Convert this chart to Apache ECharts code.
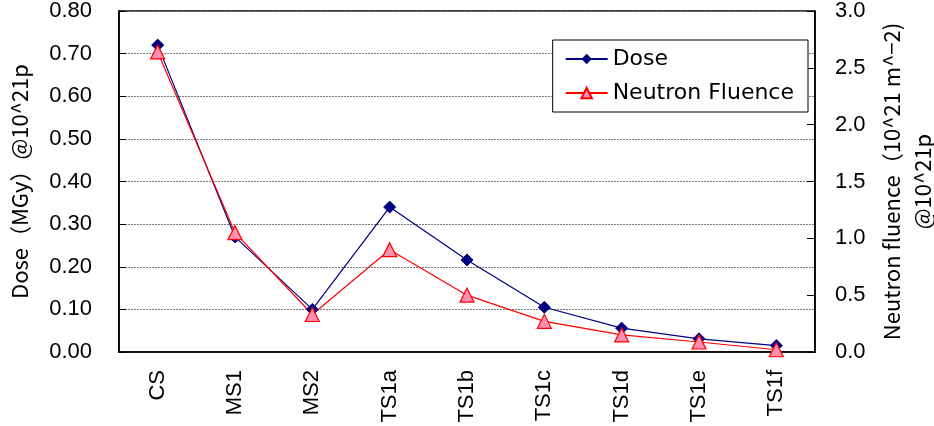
<!DOCTYPE html>
<html>
<head>
<meta charset="utf-8">
<script src="https://cdn.jsdelivr.net/npm/echarts@6/dist/echarts.min.js"></script>
<style>
  html, body { margin: 0; padding: 0; background: #fff; }
  #chart { width: 934px; height: 426px; }
</style>
</head>
<body>
<div id="chart"></div>
<script>
const categories = ['CS', 'MS1', 'MS2', 'TS1a', 'TS1b', 'TS1c', 'TS1d', 'TS1e', 'TS1f'];
const doseValues = [0.72, 0.27, 0.10, 0.34, 0.216, 0.105, 0.056, 0.031, 0.015];
const fluenceValues = [2.64, 1.05, 0.33, 0.90, 0.50, 0.27, 0.15, 0.088, 0.02];
const leftTicks = { min: 0, max: 0.8, interval: 0.1 };
const rightTicks = { min: 0, max: 3.0, interval: 0.5 };

const font = 'Liberation Sans, Arial, sans-serif';
const cjkFont = '"Noto Sans CJK JP", sans-serif';

const chart = echarts.init(document.getElementById('chart'));
const option = {
    backgroundColor: '#fff',
    animation: false,
    grid: {
        left: 119,
        right: 119,
        top: 11,
        bottom: 74,
        containLabel: false,
        outerBoundsMode: 'none',
        show: true,
        borderColor: '#000',
        borderWidth: 1.5,
    },
    legend: {
        right: 126,
        top: 40,
        orient: 'vertical',
        padding: [8, 14, 8, 12],
        itemGap: 12,
        itemWidth: 42,
        itemHeight: 13,
        borderColor: '#000',
        borderWidth: 1,
        backgroundColor: '#fff',
        textStyle: { fontFamily: 'DejaVu Sans', fontSize: 22, color: '#000' },
        data: ['Dose', 'Neutron Fluence'],
    },
    xAxis: {
        type: 'category',
        data: categories,
        boundaryGap: true,
        axisLine: { lineStyle: { color: '#000', width: 1.5 } },
        axisTick: { inside: true, length: 8, lineStyle: { color: '#000' } },
        axisLabel: {
            rotate: 90,
            margin: 18,
            fontFamily: font,
            fontSize: 22,
            color: '#000',
        },
    },
    yAxis: [
        {
            type: 'value',
            min: leftTicks.min,
            max: leftTicks.max,
            interval: leftTicks.interval,
            name: 'Dose（MGy）@10^21p',
            nameLocation: 'middle',
            nameGap: 88,
            nameTextStyle: { fontFamily: cjkFont, fontSize: 22, color: '#000' },
            axisLine: { show: true, lineStyle: { color: '#000', width: 1.5 } },
            axisTick: { show: true, inside: true, length: 7, lineStyle: { color: '#000' } },
            axisLabel: {
                fontFamily: font,
                fontSize: 22,
                color: '#000',
                margin: 27,
                formatter: v => v.toFixed(2),
            },
            splitLine: { show: true, lineStyle: { color: '#777', type: [2, 1], width: 1 } },
        },
        {
            type: 'value',
            min: rightTicks.min,
            max: rightTicks.max,
            interval: rightTicks.interval,
            name: 'Neutron fluence（10^21 m^−2)\n@10^21p',
            nameLocation: 'middle',
            nameGap: 61,
            nameRotate: 90,
            nameTextStyle: { fontFamily: cjkFont, fontSize: 22, color: '#000', lineHeight: 31 },
            axisLine: { show: true, lineStyle: { color: '#000', width: 1.5 } },
            axisTick: { show: true, inside: true, length: 8, lineStyle: { color: '#000' } },
            axisLabel: {
                fontFamily: font,
                fontSize: 22,
                color: '#000',
                margin: 20,
                formatter: v => v.toFixed(1),
            },
            splitLine: { show: false },
        },
    ],
    series: [
        {
            name: 'Dose',
            type: 'line',
            yAxisIndex: 0,
            data: doseValues,
            symbol: 'diamond',
            symbolSize: 12,
            lineStyle: { color: '#000080', width: 1.2 },
            itemStyle: { color: '#000080', borderColor: '#000080' },
        },
        {
            name: 'Neutron Fluence',
            type: 'line',
            yAxisIndex: 1,
            data: fluenceValues,
            symbol: 'triangle',
            symbolSize: 14,
            lineStyle: { color: '#ff0000', width: 1.2 },
            itemStyle: { color: '#ff8fb0', borderColor: '#ff0000', borderWidth: 1.2 },
        },
    ],
};
chart.setOption(option);
</script>
</body>
</html>
